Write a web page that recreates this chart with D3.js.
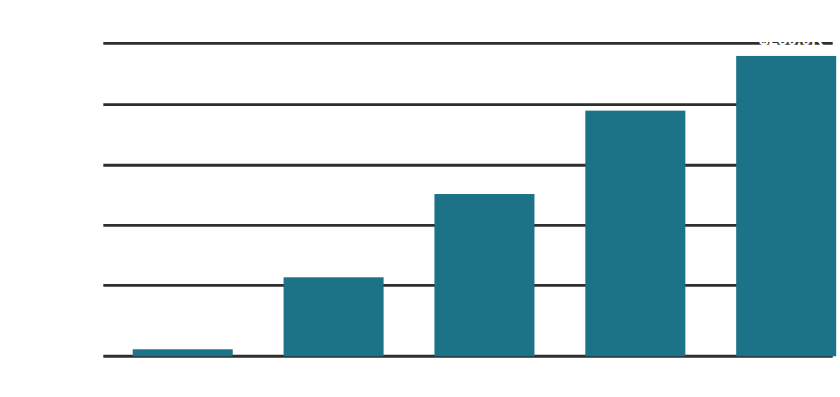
<!DOCTYPE html>
<html lang="en">
<head>
    <meta charset="UTF-8">
    <title>Bar chart</title>
    <script src="https://d3js.org/d3.v7.min.js"></script>
    <style>
        body {
            margin: 0;
            background: #ffffff;
            font-family: "Liberation Sans", Arial, sans-serif;
        }
        .label {
            fill: #ffffff;
            font-size: 15px;
            font-weight: bold;
        }
        .value {
            font-size: 17px;
        }
    </style>
</head>
<body>
    <div id="chart"></div>

    <script>
        // Data
        const categories = ["2019", "2020", "2021", "2022", "2023"];
        const values = [5.6, 63.1, 129.6, 196.2, 239.9];
        const yTicks = [56.7, 104.6, 152.6, 201, 250];

        const width = 840, height = 397;
        const plot = {left: 103.3, right: 832.7, top: 43.3, bottom: 356.3};

        const svg = d3.select("#chart")
            .append("svg")
              .attr("width", width)
              .attr("height", height);

        const y = d3.scaleLinear()
            .domain([0, 250])
            .range([plot.bottom, plot.top]);

        // bars run a little past the grid on the right, as in the original
        const x = d3.scaleBand()
            .domain(categories)
            .range([132.7, 836.2])
            .paddingInner(0.337)
            .paddingOuter(0);

        // Gridlines
        svg.append("g")
            .selectAll("line")
            .data(yTicks)
            .join("line")
              .attr("x1", plot.left)
              .attr("x2", plot.right)
              .attr("y1", d => y(d))
              .attr("y2", d => y(d))
              .attr("stroke", "#2e2e2e")
              .attr("stroke-width", 2.8);

        // Y tick labels (white)
        svg.append("g")
            .selectAll("text")
            .data(yTicks)
            .join("text")
              .attr("class", "label")
              .attr("x", plot.left - 10)
              .attr("y", d => y(d))
              .attr("dy", "0.35em")
              .attr("text-anchor", "end")
              .text(d => d3.format(".0f")(d));

        // Baseline
        svg.append("line")
            .attr("x1", plot.left)
            .attr("x2", plot.right)
            .attr("y1", y(0))
            .attr("y2", y(0))
            .attr("stroke", "#2e2e2e")
            .attr("stroke-width", 3);

        // Bars
        svg.append("g")
            .selectAll("rect")
            .data(values)
            .join("rect")
              .attr("x", (d, i) => x(categories[i]))
              .attr("y", d => y(d))
              .attr("width", x.bandwidth())
              .attr("height", d => y(0) - y(d))
              .attr("fill", "#1c7287");

        // Value labels (white)
        svg.append("g")
            .selectAll("text")
            .data(values)
            .join("text")
              .attr("class", "label value")
              .attr("x", (d, i) => x(categories[i]) + x.bandwidth() / 2 + 5)
              .attr("y", d => y(d) - 11)
              .attr("text-anchor", "middle")
              .text(d => "$" + d3.format(".1f")(d) + "K");

        // Category labels (white)
        svg.append("g")
            .selectAll("text")
            .data(categories)
            .join("text")
              .attr("class", "label")
              .attr("x", d => x(d) + x.bandwidth() / 2)
              .attr("y", y(0) + 24)
              .attr("text-anchor", "middle")
              .text(d => d);
    </script>
</body>
</html>
